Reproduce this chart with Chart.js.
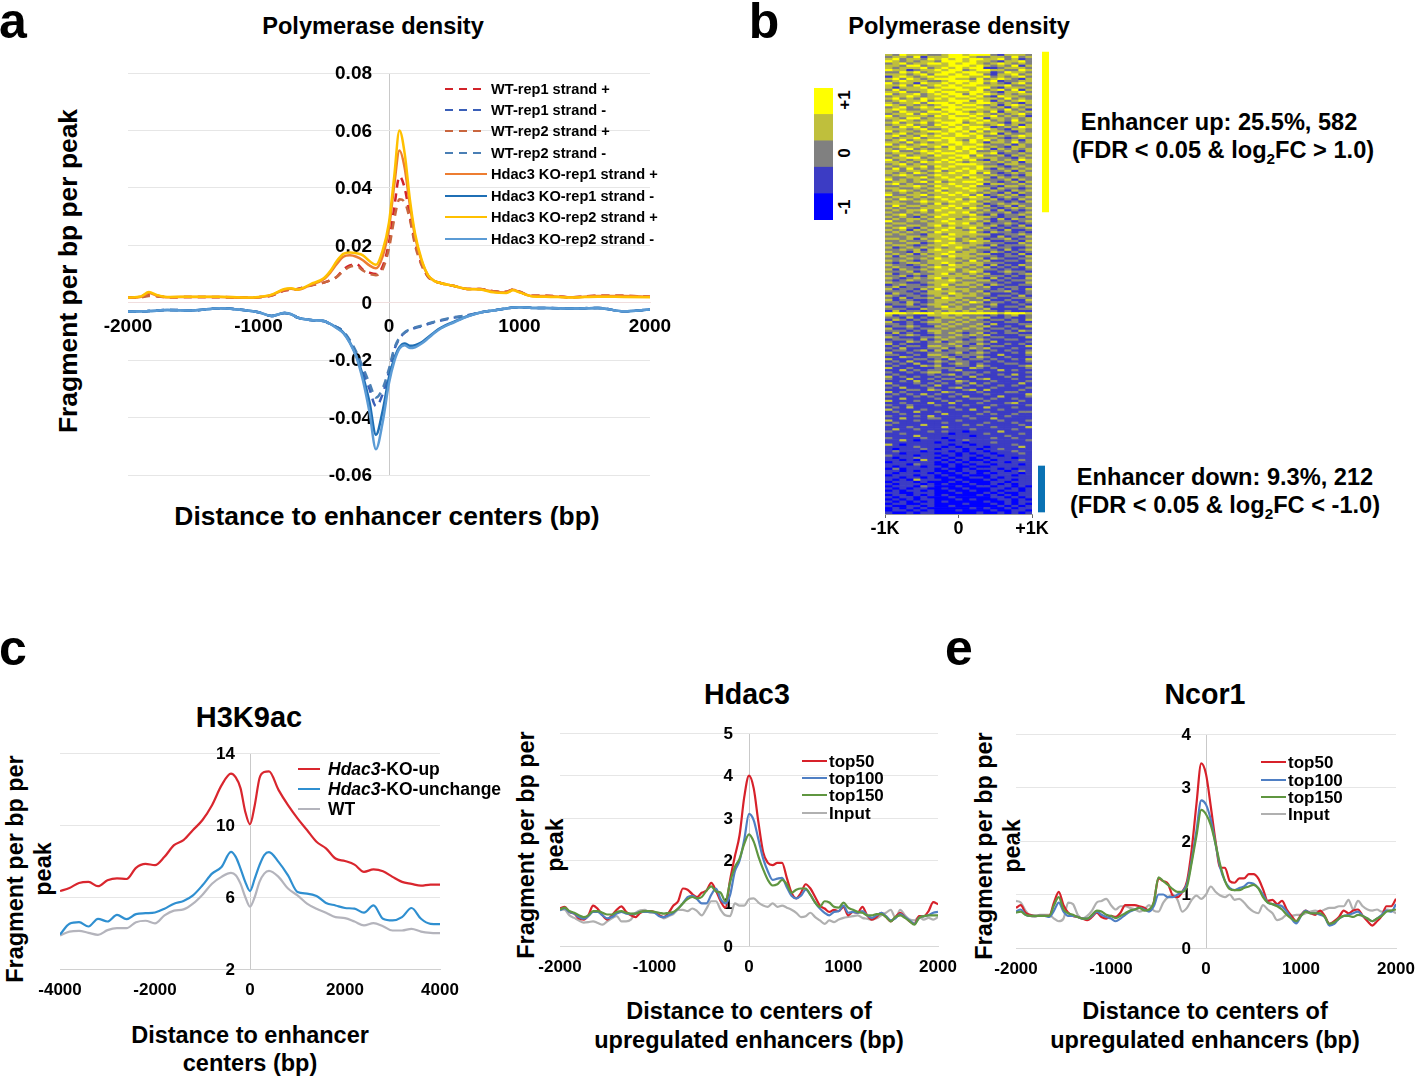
<!DOCTYPE html>
<html>
<head>
<meta charset="utf-8">
<script src="https://cdn.jsdelivr.net/npm/chart.js@4"></script>
<style>
  html, body { margin: 0; padding: 0; background: #fff; }
  #page { position: relative; width: 1416px; height: 1076px; overflow: hidden; font-family: "Liberation Sans", Arial, sans-serif; font-weight: bold; color: #000; }
  #page canvas { position: absolute; }
  .t { position: absolute; white-space: nowrap; transform: translate(-50%, -50%); line-height: 1; }
  .v { transform: translate(-50%, -50%) rotate(-90deg); }
  sub { font-size: 65%; line-height: 0; }
</style>
</head>
<body>
<div id="page">
  <div class="t" style="left:13px;top:21px;font-size:50px">a</div>
  <div class="t" style="left:764px;top:21px;font-size:50px">b</div>
  <div class="t" style="left:13px;top:648px;font-size:50px">c</div>
  <div class="t" style="left:959px;top:648px;font-size:50px">e</div>

  <div class="t" style="left:373px;top:27px;font-size:23.6px">Polymerase density</div>
  <div class="t v" style="left:68px;top:271px;font-size:26.4px">Fragment per bp per peak</div>
  <div class="t" style="left:387px;top:516px;font-size:26.4px">Distance to enhancer centers (bp)</div>

  <div class="t" style="left:959px;top:27px;font-size:23.6px">Polymerase density</div>
  <div class="t v" style="left:844px;top:100px;font-size:17px">+1</div>
  <div class="t v" style="left:844px;top:153px;font-size:17px">0</div>
  <div class="t v" style="left:844px;top:207px;font-size:17px">-1</div>
  <div class="t" style="left:1219px;top:123px;font-size:23.6px">Enhancer up: 25.5%, 582</div>
  <div class="t" style="left:1223px;top:151px;font-size:23.6px">(FDR &lt; 0.05 &amp; log<sub>2</sub>FC &gt; 1.0)</div>
  <div class="t" style="left:1225px;top:478px;font-size:23.6px">Enhancer down: 9.3%, 212</div>
  <div class="t" style="left:1225px;top:506px;font-size:23.6px">(FDR &lt; 0.05 &amp; log<sub>2</sub>FC &lt; -1.0)</div>

  <div class="t" style="left:249px;top:717px;font-size:29px">H3K9ac</div>
  <div class="t v" style="left:16px;top:869px;font-size:23.4px">Fragment per bp per</div>
  <div class="t v" style="left:44px;top:869px;font-size:23.4px">peak</div>
  <div class="t" style="left:250px;top:1036px;font-size:23.5px">Distance to enhancer</div>
  <div class="t" style="left:250px;top:1064px;font-size:23.5px">centers (bp)</div>

  <div class="t" style="left:747px;top:694px;font-size:28.6px">Hdac3</div>
  <div class="t v" style="left:527px;top:845px;font-size:23.4px">Fragment per bp per</div>
  <div class="t v" style="left:556px;top:845px;font-size:23.4px">peak</div>
  <div class="t" style="left:749px;top:1012px;font-size:23.5px">Distance to centers of</div>
  <div class="t" style="left:749px;top:1041px;font-size:23.5px">upregulated enhancers (bp)</div>

  <div class="t" style="left:1205px;top:694px;font-size:28.6px">Ncor1</div>
  <div class="t v" style="left:985px;top:846px;font-size:23.4px">Fragment per bp per</div>
  <div class="t v" style="left:1013px;top:846px;font-size:23.4px">peak</div>
  <div class="t" style="left:1205px;top:1012px;font-size:23.5px">Distance to centers of</div>
  <div class="t" style="left:1205px;top:1041px;font-size:23.5px">upregulated enhancers (bp)</div>
</div>

<script>
// panel a
const aX = [-2000,-1900,-1840,-1780,-1700, -1500,-1300,-1100,-1000,-900, -800,-750,-700,-600,-500, -450,-400,-350,-300,-250, -200,-150,-100,-50,0, 40,80,120,160,200, 250,300,350,400,500, 600,700,800,900,950, 1000,1100,1200,1400,1600,1800,2000];
const wt1Plus = [.0018,.0020,.0026,.0024,.0019, .0020,.0020,.0018,.0019,.0025, .0042,.0045,.0048,.0060,.0070, .0078,.0090,.0115,.0130,.0135, .0115,.0105,.0100,.0125,.021, .033,.044,.040,.030,.021, .0135,.0090,.0075,.0068,.0058, .0048,.0048,.0040,.0038,.0046, .0038,.0024,.0024,.0019,.0024,.0024,.0021];
const wt1Minus = [-.0031,-.0030,-.0029,-.0028,-.0025, -.0027,-.0019,-.0026,-.0033,-.0046, -.0036,-.0040,-.0052,-.0060,-.0064, -.0074,-.0085,-.0100,-.0135,-.0180, -.0235,-.030,-.036,-.032,-.024, -.0165,-.0125,-.0105,-.0095,-.0088, -.0082,-.0074,-.0068,-.0062,-.0052, -.0044,-.0034,-.0027,-.0020,-.0017, -.0016,-.0018,-.0018,-.0020,-.0018,-.0030,-.0024];
const wt2Plus = [.0017,.0019,.0023,.0022,.0019, .0020,.0019,.0017,.0019,.0025, .0043,.0046,.0048,.0060,.0070, .0078,.0090,.0110,.0125,.0128, .0112,.0100,.0096,.0115,.019, .029,.036,.035,.029,.020, .013,.0090,.0075,.0068,.0058, .0048,.0048,.0040,.0038,.0046, .0038,.0024,.0024,.0019,.0024,.0024,.0021];
const wt2Minus = [-.0031,-.0030,-.0029,-.0028,-.0025, -.0027,-.0019,-.0026,-.0033,-.0046, -.0036,-.0040,-.0052,-.0060,-.0064, -.0074,-.0085,-.0100,-.0130,-.0172, -.0225,-.028,-.033,-.030,-.023, -.0160,-.0122,-.0103,-.0093,-.0086, -.0080,-.0072,-.0066,-.0060,-.0050, -.0044,-.0034,-.0027,-.0020,-.0017, -.0016,-.0018,-.0018,-.0020,-.0018,-.0030,-.0024];
const ko1Plus = [.0017,.0021,.0034,.0025,.0019, .0020,.0020,.0017,.0019,.0027, .0046,.0049,.0045,.0062,.0082, .0105,.0135,.016,.0165,.016, .0148,.013,.012,.016,.026, .041,.053,.047,.034,.023, .0145,.0095,.0075,.0068,.0058, .0048,.0047,.0038,.0036,.0045, .0037,.0023,.0023,.0019,.0023,.0023,.0021];
const ko1Minus = [-.0031,-.0030,-.0029,-.0028,-.0025, -.0027,-.0019,-.0026,-.0033,-.0046, -.0036,-.0040,-.0052,-.0060,-.0064, -.0074,-.0087,-.0104,-.0138,-.0185, -.0255,-.0345,-.046,-.038,-.026, -.0195,-.0155,-.0142,-.0150,-.0148, -.0138,-.0120,-.0102,-.0087,-.0066, -.0047,-.0034,-.0027,-.0020,-.0017, -.0016,-.0018,-.0018,-.0020,-.0018,-.0030,-.0024];
const ko2Plus = [.0018,.0022,.0037,.0027,.0020, .0021,.0021,.0018,.0020,.0028, .0048,.0050,.0046,.0065,.0085, .011,.0145,.017,.0175,.0172, .0165,.0145,.0132,.018,.028, .044,.060,.052,.036,.024, .015,.0095,.0075,.0068,.0058, .0048,.0046,.0036,.0034,.0043, .0036,.0022,.0021,.0018,.0021,.0020,.0019];
const ko2Minus = [-.0031,-.0030,-.0029,-.0028,-.0025, -.0027,-.0019,-.0026,-.0033,-.0046, -.0036,-.0040,-.0052,-.0060,-.0064, -.0074,-.0089,-.0106,-.0140,-.0190, -.0270,-.0380,-.0510,-.0420,-.0280, -.0205,-.0160,-.0148,-.0158,-.0155, -.0142,-.0124,-.0105,-.0089,-.0068, -.0048,-.0034,-.0027,-.0020,-.0017, -.0016,-.0018,-.0018,-.0020,-.0018,-.0030,-.0024];

// panel b, one digit per bin: 0 blue .. 4 yellow, top row first
const keyLevels = ['+1', '+0.5', '0', '-0.5', '-1'];
const levelColors = ['#0000ff', '#3c3cc4', '#808080', '#bfbf3c', '#ffff00'];
const bandUp = [-1, 79];
const bandDown = [206, 229];
const heatRows = [
  "3243332 2344344 4213332","2332413 3344432 2332423","3423324 3434344 3342312","4323233 2444343 3213342",
  "2342334 4343443 2343232","3324423 3344434 3232413","3233342 3434344 1123332","4331233 4344234 4332243",
  "2243423 3443443 3124332","3332342 4434344 2133423","1343234 3344433 4232342","3424323 4443324 2343213",
  "2343332 2344434 3412233","4233143 3434344 2321342","3342423 4343443 3334223","3133342 3444334 4213332",
  "2423334 4334434 2342413","3342234 3443344 3213342","4233423 4344243 4323233","2334323 3434434 2143322",
  "3423243 4343343 3324232","2343342 3344424 3132343","3233424 4434334 4323213","4323232 3443443 2313432",
  "2342343 4344334 3231323","3432233 2443443 3324231","3243324 4344323 2413323","2334243 3434434 3232342",
  "4233332 4343343 3423231","3324423 3344434 1332323","2343233 4334343 4232423","3423342 3444234 3321332",
  "2334232 4343433 2342313","3243423 3434344 3123243","3332342 2344343 4321332","4233234 4343424 2332132",
  "2342332 3434343 3413223","3423243 4334434 2232343","3233423 3443334 3321232","2342334 4343243 4232313",
  "3324232 3344343 1332423","4232343 3434334 3223132","2343323 4243443 2321332","3234232 3343434 3132323",
  "3422343 4334342 2323213","2333234 3443343 3412232","3242332 4334424 2231323","2334423 3343433 3322132",
  "4232332 3434342 1323243","3323243 4343233 3232313","2342323 3334443 2213322","3233342 4343334 3321232",
  "2424232 3433434 2132323","3323323 4234343 3223132","3232432 3343342 4212323","2343223 4333433 2321213",
  "3223342 3434243 3132322","4232323 3343334 2223132","2332342 4233443 3212313","3423223 3343334 1332232",
  "2233432 4334342 2213323","3322323 3433433 3132212","2343232 4233343 2321323","3232323 3434332 3213132",
  "4223342 3343424 1232312","2332323 4333343 3123223","3243232 3434233 2312132","2322343 3343342 3221213",
  "3332232 4233433 1232322","2423323 3343332 3123132","3232233 3434243 2212323","2323342 4333332 3131212",
  "3223232 3343423 2223123","2342323 3433342 1312232","3232132 4333233 3212213","2323323 3342343 2131322",
  "4223232 3433332 3122123","2332223 3343423 1223212","3223323 4233333 2312131","2342132 3342342 3121223",
  "3231323 3433233 2213112","2323232 4333342 1322121","3232213 3243333 3112232","2223323 3433232 2131213",
  "3323132 3342323 1223122","2232223 4332343 3112213","3223312 3343233 2221132","2332123 3433332 1312223",
  "3123232 3234323 3122112","2232313 4333232 2213123","3221323 3342332 1321212","2323132 3433323 3112131",
  "3132223 3243332 2212213","2223232 4332323 1321122","3232123 3333242 3112213","2123323 3432333 2221112",
  "3221232 3243323 1312132","2322123 4333232 3121213","3132232 3342323 2212112","2223123 3332343 1123221",
  "3122322 3423232 3112123","2231213 3333323 2221212","3212323 4232332 1312113","2123222 3343223 3121222",
  "3221123 3332332 2212113","1232212 3423323 1321122","2312223 3332232 3112211","3122132 4233322 2121213",
  "2221213 3332323 1223112","1322123 3243232 3111212","3212212 3323332 2122131","2131223 2433223 1211222",
  "3122112 3332322 3112113","2213212 3323243 1221212","1223123 3232322 2311121","3112212 3423223 1212213",
  "2221132 2333232 3111122","1312212 3232323 2212111","4443444 3444444 4434443","3122113 3323222 1212312",
  "2213121 2332323 3112112","1321212 3223232 1221213","3112123 3232322 2112211","2212112 2323223 1311122",
  "1223211 3232232 3112113","3112122 2322323 1221211","2221213 3223222 2112132","1312112 3232123 1212211",
  "2123211 2223232 3111122","3211122 3232212 1221113","1222131 2322123 2112211","2113212 3123222 1311112",
  "3121112 2232213 2112121","1212213 3223122 1221113","2131112 2312232 3111211","1221231 3122212 1212112",
  "3112112 2223123 2111213","2211213 3212222 1131112","1132112 2321213 2112111","3111221 2132122 1211213",
  "1213112 3212211 2121112","2121311 2123212 1112211","1211132 3112213 2111123","3112111 2221132 1211112",
  "1131212 2123111 1131211","2112123 3111221 2111112","1211112 1231212 1121311","3121211 2112131 1112112",
  "2113112 1221112 3111211","1121311 2113211 1211112","3111212 1212131 2111131","1211121 3111212 1121211",
  "2131112 1123111 1211112","1112213 2111231 3111121","3121111 1321112 1112211","1212131 2112111 2111113",
  "2111212 1121311 1131112","1131111 2111122 1211211","3111211 1212111 2111121","1121113 1131112 1112311",
  "2112111 2111211 1211112","1213111 1121111 3111211","3111121 1112131 1121111","1211311 2111111 2111122",
  "1121111 1311112 1211211","2111213 1111211 1112111","1131112 2111121 1311111","3111211 1112111 1121112",
  "1211111 1211111 2111211","2111131 1111212 1111121","1112111 1311111 1211113","1311211 1111121 1111211",
  "2111112 1211011 1131111","1121111 1101111 2111121","1111311 1111101 1112111","2111121 1011111 1211211",
  "1131011 1101211 1111112","1111111 0111011 1211111","3101111 1101101 1111211","1111211 1010111 0111131",
  "1011121 0111010 1121111","1211101 1101011 0111211","1101111 0110101 1011121","2111011 1010110 1101111",
  "1011211 0101101 0111011","1101031 1010100 1011121","0111111 0101011 0110111","1110211 0010101 1011101",
  "1011101 1010010 0111111","0201111 0100101 1101011","1101011 0010110 0110121","1011110 1001010 1011101",
  "0111011 0100100 0111011","1101101 0010011 0101111","1010311 1001000 1011011","0111010 0010100 0110111",
  "1011101 0100010 0101011","0111021 0001001 1011010","1010110 0100100 0110101","0101101 0010010 0101101",
  "1100111 0001000 1010011","0110101 0100001 0101011","1011010 0010000 0110101","0101011 0001010 0011010",
  "1010101 0100000 1001011","0110011 0000100 0101010","1001101 0010000 0010101","0101010 0000010 1001011",
  "0110101 0001000 0100110","1001011 0000001 0010101"
].map(r => r.replace(/ /g, ''));

// panel c
const cX = [-4000,-3800,-3600,-3400,-3200,-3000,-2800,-2600,-2400,-2200,-2000,-1800,-1600,-1400,-1200,-1000,-800,-600,-400,-300,-200,-100,0,100,200,300,400,600,800,1000,1200,1400,1600,1800,2000,2200,2400,2600,2800,3000,3200,3400,3600,3800,4000];
const koUp = [6.33,6.5,6.78,6.84,6.6,6.93,7.04,7.0,7.62,7.84,7.77,8.23,8.88,9.16,9.72,10.28,11.1,12.2,12.85,12.64,12.05,10.74,10.04,11.1,12.6,12.94,12.98,11.95,11.1,10.37,9.72,9.07,8.7,8.14,8.0,7.8,7.4,7.53,7.43,7.12,6.84,6.73,6.63,6.69,6.69];
const koUnchange = [3.92,4.51,4.6,4.36,4.79,4.64,5.01,4.77,5.05,5.1,5.14,5.35,5.63,5.78,6.09,6.65,7.3,7.67,8.51,8.23,7.58,6.84,6.33,7.02,7.77,8.33,8.49,7.95,7.2,6.28,6.19,6.06,5.67,5.53,5.39,5.35,5.13,5.53,4.79,4.7,4.88,5.39,4.79,4.51,4.49];
const wtC = [3.86,4.08,4.12,4.01,3.9,4.16,4.27,4.27,4.6,4.68,4.53,4.98,5.24,5.31,5.63,6.13,6.74,7.12,7.34,7.21,6.74,6.0,5.46,6.0,6.84,7.3,7.45,7.12,6.47,6.09,5.63,5.35,5.13,4.88,4.83,4.64,4.42,4.55,4.38,4.14,4.14,4.23,4.08,4.01,3.99];

// panels d and e, every 50 bp
const profileX = [-2000,-1950,-1900,-1850,-1800,-1750,-1700,-1650,-1600,-1550,-1500,-1450,-1400,-1350,-1300,-1250,-1200,-1150,-1100,-1050,-1000,-950,-900,-850,-800,-750,-700,-650,-600,-550,-500,-450,-400,-350,-300,-250,-200,-150,-100,-50,0,50,100,150,200,250,300,350,400,450,500,550,600,650,700,750,800,850,900,950,1000,1050,1100,1150,1200,1250,1300,1350,1400,1450,1500,1550,1600,1650,1700,1750,1800,1850,1900,1950,2000];
const hdacTop50 = [.88,.92,.80,.76,.65,.62,.72,.95,.87,.72, .62,.72,.85,.93,.80,.72,.68,.78,.82,.82, .80,.72,.68,.78,.95,1.05,1.35,1.32,1.22,1.15, 1.25,1.30,1.48,1.30,1.05,.90,1.55,2.1,2.6,3.5, 4.0,3.7,2.9,2.2,1.95,1.9,1.95,1.95,1.6,1.25, 1.12,1.25,1.45,1.35,1.15,.95,.88,.80,.85,.82, .92,.72,.80,.78,.92,.72,.62,.68,.78,.68, .58,.68,.78,.68,.58,.52,.70,.70,.82,1.03, .98];
const hdacTop100 = [.84,.88,.80,.76,.68,.64,.70,.80,.80,.72, .65,.68,.76,.80,.76,.75,.76,.80,.80,.80, .78,.70,.68,.72,.78,.88,1.0,1.15,1.18,1.1, 1.0,1.0,1.2,1.35,1.1,1.0,1.2,1.75,2.0,2.5, 3.1,2.95,2.5,2.05,1.75,1.55,1.58,1.6,1.38,1.18, 1.12,1.18,1.32,1.2,1.02,.88,.78,.72,.80,.82, .95,.78,.80,.78,.82,.72,.66,.72,.78,.70, .60,.65,.75,.68,.60,.52,.66,.70,.72,.78, .80];
const hdacTop150 = [.86,.90,.82,.78,.72,.68,.72,.82,.82,.78, .74,.74,.80,.82,.78,.76,.76,.80,.82,.82, .80,.78,.76,.78,.80,.88,1.0,1.1,1.15,1.12, 1.15,1.3,1.4,1.28,1.25,1.05,1.5,1.85,2.05,2.4, 2.62,2.45,2.1,1.8,1.55,1.42,1.45,1.55,1.45,1.25, 1.32,1.35,1.35,1.2,1.02,.92,1.05,1.02,.92,.90, 1.02,.90,.85,.80,.78,.72,.72,.75,.75,.68, .58,.68,.72,.66,.58,.50,.66,.70,.72,.72, .72];
const hdacInput = [.86,.85,.72,.66,.60,.55,.56,.58,.54,.50, .58,.65,.70,.58,.58,.62,.78,.84,.85,.78, .78,.72,.65,.70,.75,.85,.85,.82,.88,.82, .72,.88,1.05,1.05,.85,.72,.70,1.0,.95,.95, 1.1,1.12,1.02,.95,.92,1.0,.92,.95,.90,.85, .78,.68,.70,.78,.68,.60,.52,.60,.56,.62, .66,.68,.70,.72,.66,.64,.62,.65,.72,.78, .85,.66,.85,.72,.62,.60,.68,.62,.66,.62, .68];
const ncorTop50 = [.75,.80,.66,.62,.60,.60,.60,.60,.85,1.05, .80,.66,.60,.58,.55,.52,.58,.66,.58,.55, .60,.58,.66,.80,.80,.80,.78,.75,.70,.85, 1.30,1.25,1.20,.98,.95,1.05,1.25,1.85,2.7,3.45, 3.25,2.65,2.0,1.5,1.5,1.25,1.22,1.30,1.30,1.38, 1.38,1.30,1.10,.88,.90,.82,.88,.72,.60,.50, .62,.70,.65,.62,.70,.60,.45,.50,.58,.70, .65,.70,.72,.60,.50,.42,.50,.60,.78,.78, .92];
const ncorTop100 = [.68,.72,.62,.60,.60,.60,.60,.58,.70,.85, .68,.60,.60,.58,.55,.55,.60,.68,.62,.58, .55,.50,.55,.62,.68,.72,.75,.72,.68,.78, 1.0,1.0,.95,.95,1.0,1.05,1.2,1.65,2.2,2.76, 2.68,2.4,1.95,1.5,1.25,1.12,1.08,1.12,1.15,1.22, 1.2,1.12,1.0,.85,.82,.80,.78,.68,.55,.46, .60,.70,.65,.65,.62,.58,.42,.45,.55,.60, .62,.65,.68,.60,.55,.50,.55,.62,.70,.68, .82];
const ncorTop150 = [.66,.68,.62,.60,.60,.60,.60,.60,.80,.95, .72,.65,.62,.58,.55,.55,.62,.70,.68,.62, .60,.56,.60,.65,.70,.72,.75,.70,.72,.85, 1.32,1.25,1.18,1.1,1.05,1.05,1.15,1.6,2.1,2.58, 2.5,2.3,1.95,1.55,1.25,1.1,1.08,1.08,1.12,1.15, 1.18,1.12,.95,.85,.82,.78,.72,.62,.55,.50, .60,.68,.65,.65,.65,.58,.45,.48,.55,.60, .60,.58,.62,.60,.55,.50,.55,.60,.68,.70, .72];
const ncorInput = [.88,.85,.70,.60,.58,.62,.62,.62,.55,.50, .55,.85,.82,.62,.55,.60,.70,.85,.88,.92, .80,.72,.78,.78,.75,.72,.68,.72,.80,.70, .68,.85,.95,1.0,.90,.68,.75,.90,.98,.92, 1.0,1.15,1.05,.98,.95,1.0,.90,.92,.85,.75, .68,.65,.80,.72,.65,.52,.55,.62,.60,.62, .62,.65,.68,.70,.68,.72,.75,.75,.78,.78, .90,.72,.88,.78,.72,.70,.72,.68,.72,.70, .65];

const FONT = '"Liberation Sans", Arial, sans-serif';
const page = document.getElementById('page');

// canvas placed so the plot area lands on the given page rect
function addCanvas(rect, m) {
  const c = document.createElement('canvas');
  c.width = rect.w + m.left + m.right;
  c.height = rect.h + m.top + m.bottom;
  c.style.left = (rect.x - m.left) + 'px';
  c.style.top = (rect.y - m.top) + 'px';
  page.appendChild(c);
  return c;
}

// legend rows at page positions, the native legend cannot do bold italic parts
const rowLegend = {
  id: 'rowLegend',
  afterDraw(chart, args, o) {
    if (!o.ys) return;
    const ctx = chart.ctx, ox = chart.canvas.offsetLeft, oy = chart.canvas.offsetTop;
    ctx.save();
    o.rows.forEach((i, r) => {
      const d = chart.data.datasets[i], y = o.ys[r] - oy;
      ctx.beginPath();
      ctx.strokeStyle = d.borderColor;
      ctx.lineWidth = o.lineWidth;
      ctx.setLineDash(d.borderDash || []);
      ctx.moveTo(o.x0 - ox, y);
      ctx.lineTo(o.x1 - ox, y);
      ctx.stroke();
      ctx.setLineDash([]);
      ctx.fillStyle = '#000';
      ctx.textBaseline = 'middle';
      let x = o.xt - ox, text = d.label;
      if (o.italic && text.startsWith(o.italic)) {
        ctx.font = 'italic bold ' + o.size + 'px ' + FONT;
        ctx.fillText(o.italic, x, y + 1);
        x += ctx.measureText(o.italic).width;
        text = text.slice(o.italic.length);
      }
      ctx.font = 'bold ' + o.size + 'px ' + FONT;
      ctx.fillText(text, x, y + 1);
    });
    ctx.restore();
  }
};

function lineChart(p) {
  const m = { left: 50, right: p.right || 50, top: 45, bottom: 70 };
  const canvas = addCanvas(p.rect, m);
  new Chart(canvas, {
    type: 'line',
    data: {
      datasets: p.series.map(s => ({
        label: s.label,
        data: s.ys.map((y, k) => ({ x: p.xs[k], y })),
        borderColor: s.color,
        borderDash: s.dash,
        borderWidth: p.width,
        order: s.order,
        pointRadius: 0,
        fill: false,
        cubicInterpolationMode: 'monotone'
      }))
    },
    options: {
      responsive: false,
      animation: false,
      layout: { padding: m },
      plugins: {
        legend: { display: false },
        tooltip: { enabled: false },
        rowLegend: p.legend
      },
      scales: {
        x: {
          type: 'linear',
          min: p.xRange[0], max: p.xRange[1],
          position: { y: p.xAt },
          // only the line at 0 is drawn, it is the centre line of the plot
          grid: { drawTicks: false, color: c => c.tick && c.tick.value === 0 ? '#c9c9c9' : 'transparent' },
          border: { color: p.xLine },
          ticks: {
            stepSize: p.xStep, maxRotation: 0, autoSkip: false, padding: p.xPad,
            color: '#000', font: { family: FONT, weight: 'bold', size: p.xSize },
            callback: v => String(v)
          }
        },
        y: {
          type: 'linear',
          min: p.yRange[0], max: p.yRange[1],
          // tick labels sit a little left of the centre line
          position: { x: p.yLabelAt },
          grid: { color: '#e6e6e6', lineWidth: 1, drawTicks: false },
          border: { display: false },
          ticks: {
            stepSize: p.yStep, labelOffset: 1,
            color: '#000', font: { family: FONT, weight: 'bold', size: p.ySize },
            callback: p.yLabel
          }
        }
      }
    },
    plugins: [rowLegend]
  });
}

lineChart({
  rect: { x: 128, y: 73, w: 522, h: 402 },
  xs: aX, xRange: [-2000, 2000], xStep: 1000, xAt: 0, xPad: 13, xSize: 19, xLine: '#f0dede',
  yRange: [-0.06, 0.08], yStep: 0.02, yLabelAt: -130, ySize: 19, width: 2.5,
  yLabel: v => Math.abs(v) < 1e-9 ? '0' : v.toFixed(2),
  series: [
    { label: 'WT-rep1 strand +', ys: wt1Plus, color: '#d2232a', dash: [8, 6], order: 3 },
    { label: 'WT-rep1 strand -', ys: wt1Minus, color: '#3a5fb8', dash: [8, 6], order: 3 },
    { label: 'WT-rep2 strand +', ys: wt2Plus, color: '#c9663f', dash: [8, 6], order: 2 },
    { label: 'WT-rep2 strand -', ys: wt2Minus, color: '#4a7fb5', dash: [8, 6], order: 2 },
    { label: 'Hdac3 KO-rep1 strand +', ys: ko1Plus, color: '#ed7d31', order: 1 },
    { label: 'Hdac3 KO-rep1 strand -', ys: ko1Minus, color: '#1f6fb5', order: 1 },
    { label: 'Hdac3 KO-rep2 strand +', ys: ko2Plus, color: '#ffc000', order: 0 },
    { label: 'Hdac3 KO-rep2 strand -', ys: ko2Minus, color: '#5b9bd5', order: 0 }
  ],
  legend: { rows: [0, 1, 2, 3, 4, 5, 6, 7], ys: [89, 110, 131, 153, 174, 196, 217, 239], x0: 445, x1: 487, xt: 491, size: 14.6, lineWidth: 2 }
});

lineChart({
  rect: { x: 60, y: 753, w: 380, h: 216 }, right: 70,
  xs: cX, xRange: [-4000, 4000], xStep: 2000, xAt: 2, xPad: 11, xSize: 17, xLine: '#d0d0d0',
  yRange: [2, 14], yStep: 4, yLabelAt: -316, ySize: 17, width: 2.2,
  yLabel: v => String(v),
  series: [
    { label: 'Hdac3-KO-up', ys: koUp, color: '#d9262e' },
    { label: 'Hdac3-KO-unchange', ys: koUnchange, color: '#2f8fd0' },
    { label: 'WT', ys: wtC, color: '#b4b4bc' }
  ],
  legend: { rows: [0, 1, 2], ys: [769, 789, 809], x0: 298, x1: 320, xt: 328, size: 17.5, lineWidth: 2, italic: 'Hdac3' }
});

lineChart({
  rect: { x: 560, y: 733, w: 378, h: 213 },
  xs: profileX, xRange: [-2000, 2000], xStep: 1000, xAt: 0, xPad: 11, xSize: 17, xLine: '#d8d8d8',
  yRange: [0, 5], yStep: 1, yLabelAt: -169, ySize: 17, width: 2.2,
  yLabel: v => String(v),
  series: [
    { label: 'top50', ys: hdacTop50, color: '#d7212a', order: 3 },
    { label: 'top100', ys: hdacTop100, color: '#4f7fc4', order: 2 },
    { label: 'top150', ys: hdacTop150, color: '#5f9640', order: 1 },
    { label: 'Input', ys: hdacInput, color: '#b0b0b0', order: 4 }
  ],
  legend: { rows: [0, 1, 2, 3], ys: [761, 778, 795, 813], x0: 802, x1: 827, xt: 829, size: 17, lineWidth: 2 }
});

lineChart({
  rect: { x: 1016, y: 734, w: 380, h: 214 }, right: 40,
  xs: profileX, xRange: [-2000, 2000], xStep: 1000, xAt: 0, xPad: 11, xSize: 17, xLine: '#d8d8d8',
  yRange: [0, 4], yStep: 1, yLabelAt: -158, ySize: 17, width: 2.2,
  yLabel: v => String(v),
  series: [
    { label: 'top50', ys: ncorTop50, color: '#d7212a', order: 3 },
    { label: 'top100', ys: ncorTop100, color: '#4f7fc4', order: 2 },
    { label: 'top150', ys: ncorTop150, color: '#5f9640', order: 1 },
    { label: 'Input', ys: ncorInput, color: '#b0b0b0', order: 4 }
  ],
  legend: { rows: [0, 1, 2, 3], ys: [762, 780, 797, 814], x0: 1261, x1: 1286, xt: 1288, size: 17, lineWidth: 2 }
});

// heatmap, one floating bar dataset per 7 px column
const binCount = heatRows[0].length;
const binWidth = 2000 / binCount;
const heatMargin = { left: 30, right: 30, top: 0, bottom: 30 };
new Chart(addCanvas({ x: 885, y: 54, w: 147, h: 460 }, heatMargin), {
  type: 'bar',
  data: {
    labels: heatRows.map((r, i) => i),
    datasets: Array.from({ length: binCount }, (_, b) => ({
      data: heatRows.map(() => [-1000 + b * binWidth, -1000 + (b + 1) * binWidth]),
      backgroundColor: heatRows.map(r => levelColors[Number(r[b])]),
      barPercentage: 1,
      categoryPercentage: 1,
      grouped: false
    }))
  },
  options: {
    indexAxis: 'y',
    responsive: false,
    animation: false,
    layout: { padding: heatMargin },
    plugins: { legend: { display: false }, tooltip: { enabled: false } },
    scales: {
      y: { display: false },
      x: {
        type: 'linear', min: -1000, max: 1000,
        position: { y: heatRows.length - 0.5 },
        grid: { drawOnChartArea: false, tickLength: 3, color: '#666' },
        border: { color: '#999' },
        ticks: {
          stepSize: 1000, maxRotation: 0, padding: 1, color: '#000',
          font: { family: FONT, weight: 'bold', size: 18 },
          callback: v => v < 0 ? '-1K' : v > 0 ? '+1K' : '0'
        }
      }
    }
  }
});

// colour key
const noMargin = { left: 0, right: 0, top: 0, bottom: 0 };
new Chart(addCanvas({ x: 814, y: 88, w: 19, h: 132 }, noMargin), {
  type: 'bar',
  data: {
    labels: keyLevels,
    datasets: [{
      data: keyLevels.map(() => [0, 1]),
      backgroundColor: levelColors.slice().reverse(),
      barPercentage: 1,
      categoryPercentage: 1
    }]
  },
  options: {
    indexAxis: 'y',
    responsive: false,
    animation: false,
    plugins: { legend: { display: false }, tooltip: { enabled: false } },
    scales: { x: { display: false, min: 0, max: 1 }, y: { display: false } }
  }
});

// significant ranges next to the heatmap, in heatmap rows
function bandChart(x, range, color) {
  new Chart(addCanvas({ x, y: 50, w: 7, h: 464 }, noMargin), {
    type: 'bar',
    data: {
      labels: ['band'],
      datasets: [{ data: [range], backgroundColor: color, barPercentage: 1, categoryPercentage: 1 }]
    },
    options: {
      responsive: false,
      animation: false,
      plugins: { legend: { display: false }, tooltip: { enabled: false } },
      scales: {
        x: { display: false },
        y: { display: false, reverse: true, min: -2, max: 230 }
      }
    }
  });
}
bandChart(1042, bandUp, '#ffff00');
bandChart(1038, bandDown, '#0a72b4');
</script>
</body>
</html>
